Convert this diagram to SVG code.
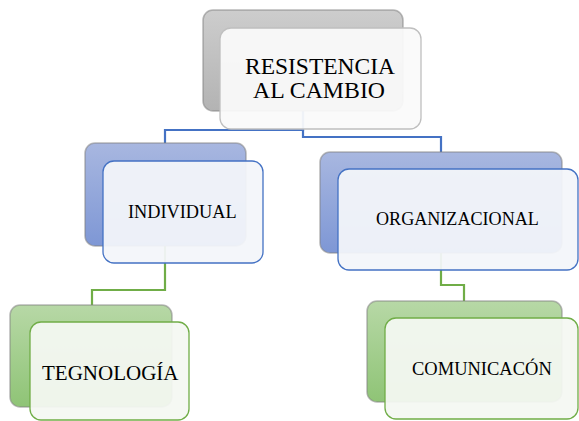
<svg xmlns="http://www.w3.org/2000/svg" width="579" height="421" viewBox="0 0 579 421">
<defs>
<linearGradient id="gGray" x1="0" y1="0" x2="0" y2="1"><stop offset="0" stop-color="#cdcdcd"/><stop offset="1" stop-color="#b3b3b3"/></linearGradient>
<linearGradient id="gBlue" x1="0" y1="0" x2="0" y2="1"><stop offset="0" stop-color="#a8b7e0"/><stop offset="1" stop-color="#7e97d5"/></linearGradient>
<linearGradient id="gGreen" x1="0" y1="0" x2="0" y2="1"><stop offset="0" stop-color="#b7d8a6"/><stop offset="1" stop-color="#8fc476"/></linearGradient>
</defs>
<style>
.back{stroke:#7f7f7f;stroke-opacity:0.55;stroke-width:1.5}
.front{stroke-width:1.3;fill-opacity:0.94}
.fg{fill:#fafafa;stroke:#bfbfbf}
.fb{fill:#f3f5fa;stroke:#4472c4}
.fn{fill:#f4f8f2;stroke:#70ad47}
.conn{fill:none;stroke-width:2.2}
.cb{stroke:#4472c4}
.cn{stroke:#70ad47}
text{font-family:"Liberation Serif","Times New Roman",serif;fill:#000}
</style>
<g id="connectors">
<path class="conn cb" d="M303,111 V130 H165 V143"/>
<path class="conn cb" d="M303,111 V137 H441 V152"/>
<path class="conn cn" d="M165,246 V290 H92 V305"/>
<path class="conn cn" d="M441,253 V285 H464 V301"/>
</g>
<g id="resistencia">
<rect class="back" x="203" y="10" width="200" height="101" rx="10" fill="url(#gGray)"/>
<rect class="front fg" x="220" y="28" width="201" height="101" rx="11"/>
<text x="320" y="73.5" font-size="22.2" text-anchor="middle" textLength="150" lengthAdjust="spacingAndGlyphs">RESISTENCIA</text>
<text x="319" y="98" font-size="22.2" text-anchor="middle" textLength="132" lengthAdjust="spacingAndGlyphs">AL CAMBIO</text>
</g>
<g id="individual">
<rect class="back" x="85" y="143" width="161" height="103" rx="10" fill="url(#gBlue)"/>
<rect class="front fb" x="103" y="161" width="160" height="102" rx="11"/>
<text x="128" y="218" font-size="18.3">INDIVIDUAL</text>
</g>
<g id="organizacional">
<rect class="back" x="320" y="152" width="242" height="101" rx="10" fill="url(#gBlue)"/>
<rect class="front fb" x="338" y="169" width="240" height="101" rx="11"/>
<text x="376" y="225" font-size="18.1">ORGANIZACIONAL</text>
</g>
<g id="tegnologia">
<rect class="back" x="10" y="305" width="162" height="102" rx="10" fill="url(#gGreen)"/>
<rect class="front fn" x="30" y="322" width="159" height="98" rx="11"/>
<text x="42" y="380" font-size="21">TEGNOLOGÍA</text>
</g>
<g id="comunicacion">
<rect class="back" x="367" y="301" width="195" height="101" rx="10" fill="url(#gGreen)"/>
<rect class="front fn" x="385" y="318" width="193" height="101" rx="11"/>
<text x="412" y="375" font-size="18.5">COMUNICACÓN</text>
</g>
</svg>
